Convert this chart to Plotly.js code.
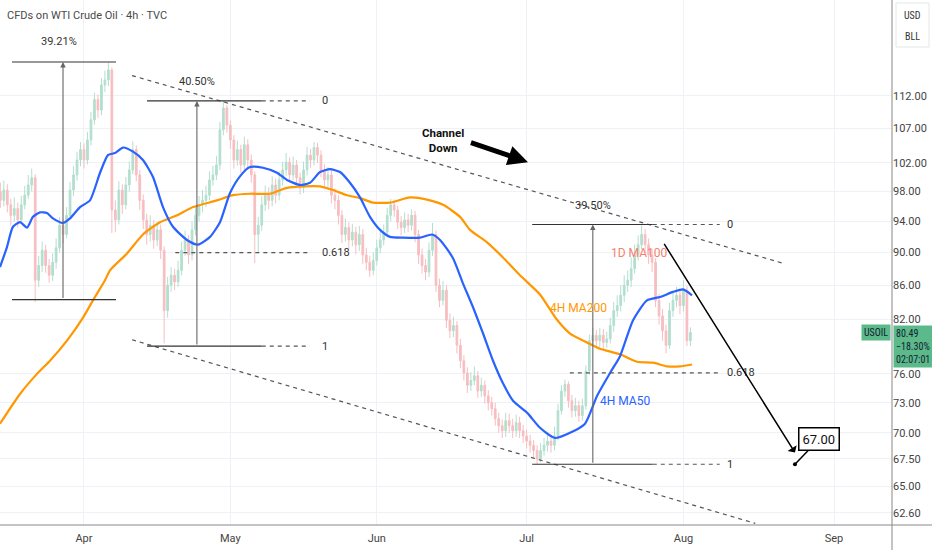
<!DOCTYPE html>
<html><head><meta charset="utf-8">
<script src="https://cdn.plot.ly/plotly-3.0.1.min.js"></script>
<style>html,body{margin:0;padding:0;background:#fff}#chart{width:932px;height:550px}</style>
</head><body><div id="chart"></div>
<script>
// ---- axis labels ----
const monthTicks = [0, 21, 42, 63.5, 86, 107.6];
const monthLabels = ['Apr', 'May', 'Jun', 'Jul', 'Aug', 'Sep'];
const priceTicks = [62.6, 65, 67.5, 70, 73, 76, 82, 86, 90, 94, 98, 102, 107, 112];
const priceTickText = ['62.60', '65.00', '67.50', '70.00', '73.00', '76.00', '82.00', '86.00', '90.00', '94.00', '98.00', '102.00', '107.00', '112.00'];

// ---- candles (trading days from Apr 1, half-day steps) ----
const candleStartDay = -12;
const candleStepDays = 0.5;
const opens = [98.0,96.8,98.2,96.2,94.8,95.7,94.2,96.2,97.5,98.9,
99.9,86.6,88.4,90.3,88.4,87.2,88.8,90.6,93.5,92.3,
94.8,98.2,100.3,102.4,103.9,102.4,105.3,108.3,111.4,109.8,
113.7,114.5,116.1,95.5,94.2,98.2,96.2,98.9,101.0,103.9,
100.3,96.8,94.2,92.3,93.5,91.6,92.9,90.3,83.0,86.0,
87.2,86.4,87.8,90.3,91.6,89.7,92.9,94.8,96.2,96.8,
97.5,99.6,100.3,101.7,106.8,110.1,107.5,105.3,102.4,103.9,
101.7,104.6,102.4,100.3,92.3,93.5,96.2,97.5,96.8,98.9,
97.5,99.6,101.0,102.1,100.3,101.7,99.9,98.5,101.0,103.1,
102.4,104.2,103.1,101.0,99.6,100.3,97.5,96.8,94.8,92.3,
93.2,91.6,92.6,91.0,92.3,89.7,88.8,87.8,89.0,90.6,
91.6,92.6,94.8,96.2,95.5,93.9,93.2,94.2,93.5,94.8,
92.3,89.7,88.4,87.6,90.3,92.3,86.0,84.2,85.4,81.9,
80.7,81.3,79.1,77.4,76.1,74.8,75.3,75.8,74.2,74.8,
73.7,73.0,72.4,71.4,70.7,70.2,71.2,70.7,70.2,71.0,
70.2,69.7,69.2,68.8,68.3,67.5,68.3,68.8,69.2,68.8,
69.7,72.2,74.2,74.9,73.2,72.2,72.7,71.7,72.7,76.3,
79.6,80.2,79.6,80.2,79.4,79.8,81.3,83.0,83.6,84.8,
86.0,86.6,88.0,89.7,91.0,92.3,91.0,89.7,88.8,84.2,
82.4,80.7,79.1,83.0,84.2,84.8,83.6,85.4,79.6];
const highs = [99.2,99.5,99.0,97.0,97.2,96.5,97.4,98.8,100.3,101.2,
100.4,89.6,91.4,91.0,89.2,89.9,91.8,94.6,94.3,95.9,
99.3,101.5,103.6,105.0,104.8,106.5,109.5,112.5,112.2,114.8,
116.0,117.3,116.5,96.8,99.4,99.0,100.0,102.2,105.1,104.5,
101.0,97.6,95.0,94.8,94.2,94.0,93.6,90.8,87.0,88.2,
88.0,89.0,91.4,92.8,92.2,94.0,96.0,97.4,98.2,98.8,
100.8,101.6,103.0,108.0,111.2,110.6,108.2,106.0,105.2,104.6,
105.8,105.4,103.2,100.8,94.6,97.4,98.8,98.6,100.1,99.8,
100.8,102.2,103.4,102.8,102.9,102.4,100.6,102.2,104.3,104.0,
105.0,104.9,103.8,101.8,101.4,101.0,98.4,97.5,95.5,94.4,
93.9,93.7,93.3,93.4,93.0,90.6,89.6,90.0,91.6,92.6,
93.6,95.8,97.0,96.9,96.1,94.7,95.2,95.0,95.6,95.4,
92.9,90.5,89.2,91.3,93.8,92.8,86.8,86.5,86.0,82.7,
82.3,81.8,79.8,78.0,76.7,76.2,76.8,76.3,75.6,75.3,
74.3,73.6,73.0,72.0,71.3,72.0,71.9,71.4,71.8,71.6,
70.8,70.3,69.8,69.3,68.8,69.0,69.5,69.9,69.8,70.6,
72.9,74.8,75.4,75.2,73.8,73.5,73.2,73.4,76.9,80.3,
81.0,80.8,81.0,80.9,80.6,82.2,84.0,84.8,86.0,87.2,
87.8,89.4,91.0,92.2,93.5,93.0,91.8,90.5,89.3,85.0,
83.2,81.4,83.9,85.3,85.8,85.5,86.6,85.9,81.1];
const lows = [95.8,96.0,95.2,93.5,94.0,93.2,93.8,95.6,97.0,98.0,
84.0,85.8,87.6,87.5,86.3,86.5,88.0,90.0,91.2,91.8,
94.2,97.4,99.5,101.5,101.2,101.8,104.5,107.6,108.6,109.0,
112.6,113.5,92.5,92.6,93.6,95.0,95.6,98.0,100.4,99.4,
95.5,93.0,91.0,91.4,90.5,90.8,89.2,79.3,82.2,85.2,
85.4,85.8,87.2,89.6,88.6,89.0,92.2,94.0,95.2,95.9,
96.8,98.8,99.6,101.0,106.0,106.4,104.0,101.2,101.6,100.6,
101.0,101.3,99.2,88.7,90.0,92.8,95.4,95.6,96.0,96.4,
96.8,98.8,100.2,99.2,99.6,98.9,97.6,97.8,100.2,101.3,
101.6,102.0,100.0,98.4,98.6,96.4,95.6,93.6,91.2,91.4,
90.5,90.8,89.8,90.2,88.6,87.8,87.0,87.2,88.4,89.9,
90.9,92.0,94.0,94.6,93.0,92.2,92.5,92.6,92.8,91.3,
88.6,87.4,86.6,87.0,89.6,85.2,83.4,83.6,81.0,79.9,
80.0,78.2,76.6,75.3,74.0,74.2,74.8,73.5,73.6,72.9,
72.2,71.7,70.7,70.0,69.5,69.6,70.0,69.5,69.6,69.5,
69.0,68.5,68.1,67.6,67.0,67.2,67.8,68.2,68.1,68.3,
69.3,71.8,73.6,72.5,71.5,71.6,71.1,71.2,72.3,75.9,
79.0,78.8,78.9,78.6,78.8,79.3,80.6,82.3,82.9,84.0,
85.2,85.8,87.4,89.0,90.4,90.0,88.6,87.6,83.4,81.4,
79.6,78.2,78.7,82.3,83.4,82.6,82.9,79.0,79.0];
const closes = [96.8,98.2,96.2,94.8,95.7,94.2,96.2,97.5,98.9,99.9,
86.6,88.4,90.3,88.4,87.2,88.8,90.6,93.5,92.3,94.8,
98.2,100.3,102.4,103.9,102.4,105.3,108.3,111.4,109.8,113.7,
114.5,116.1,95.5,94.2,98.2,96.2,98.9,101.0,103.9,100.3,
96.8,94.2,92.3,93.5,91.6,92.9,90.3,83.0,86.0,87.2,
86.4,87.8,90.3,91.6,89.7,92.9,94.8,96.2,96.8,97.5,
99.6,100.3,101.7,106.8,110.1,107.5,105.3,102.4,103.9,101.7,
104.6,102.4,100.3,92.3,93.5,96.2,97.5,96.8,98.9,97.5,
99.6,101.0,102.1,100.3,101.7,99.9,98.5,101.0,103.1,102.4,
104.2,103.1,101.0,99.6,100.3,97.5,96.8,94.8,92.3,93.2,
91.6,92.6,91.0,92.3,89.7,88.8,87.8,89.0,90.6,91.6,
92.6,94.8,96.2,95.5,93.9,93.2,94.2,93.5,94.8,92.3,
89.7,88.4,87.6,90.3,92.3,86.0,84.2,85.4,81.9,80.7,
81.3,79.1,77.4,76.1,74.8,75.3,75.8,74.2,74.8,73.7,
73.0,72.4,71.4,70.7,70.2,71.2,70.7,70.2,71.0,70.2,
69.7,69.2,68.8,68.3,67.5,68.3,68.8,69.2,68.8,69.7,
72.2,74.2,74.9,73.2,72.2,72.7,71.7,72.7,76.3,79.6,
80.2,79.6,80.2,79.4,79.8,81.3,83.0,83.6,84.8,86.0,
86.6,88.0,89.7,91.0,92.3,91.0,89.7,88.8,84.2,82.4,
80.7,79.1,83.0,84.2,84.8,83.6,85.4,79.6,80.5];

// ---- moving averages ----
const ma50Days = [-12.05,-11.05,-10.19,-9.18,-8.18,-7.32,-6.31,-5.31,-4.45,-3.01,-2.01,-0.57,0.86,2.30,3.44,4.45,5.60,7.03,8.46,9.90,11.33,12.77,14.78,16.36,18.08,19.51,20.95,22.38,23.82,25.68,27.69,29.12,30.99,32.42,33.86,35.29,36.73,38.16,39.60,41.03,42.47,43.90,45.77,48.21,49.93,51.08,52.94,54.38,55.81,57.25,58.68,60.11,61.55,63.56,65.42,67.58,69.73,71.88,73.60,75.47,76.90,78.77,80.77,82.64,84.51,85.94,87.23];
const ma50Values = [88.2,90.7,93.3,93.9,93.2,94.6,95.2,95.1,94.4,93.8,94.4,95.9,96.8,100.6,103.1,103.4,104.2,103.6,102.4,100.0,95.9,93.3,91.6,91.0,92.0,93.9,97.8,100.1,101.4,101.3,100.6,99.6,98.9,99.2,100.7,101.1,100.7,99.2,97.2,94.6,92.9,92.0,91.9,91.9,92.3,91.6,89.3,86.2,83.4,80.4,77.4,75.0,73.2,72.0,70.5,69.5,70.0,70.9,73.7,76.1,77.9,81.9,84.2,84.6,85.2,85.5,84.8];
const ma200Days = [-12.05,-9.18,-6.74,-4.88,-2.44,-0.14,1.29,3.01,3.73,6.17,8.46,10.90,13.34,15.64,19.08,21.38,23.82,26.69,29.12,31.42,33.86,35.72,37.73,39.60,41.46,43.90,46.77,49.21,51.51,53.95,55.38,57.82,60.11,62.55,65.42,67.72,69.73,72.17,74.03,76.90,79.34,81.64,83.64,85.51,87.23];
const ma200Values = [70.9,73.9,76.0,77.4,79.6,82.2,84.2,86.6,87.8,89.9,92.3,93.9,94.8,95.9,96.8,97.5,97.7,97.7,98.5,98.7,98.7,98.2,97.5,97.1,96.5,96.5,97.2,96.9,96.2,94.6,92.9,91.3,89.4,87.2,84.9,82.1,80.4,79.4,78.7,78.1,77.3,77.2,76.8,76.8,77.0];

// ---- drawings (prices / days) ----
const channelUpperDays = [6.89, 100.6];
const channelUpperPrices = [115.2, 88.6];
const channelLowerDays = [6.89, 96.3];
const channelLowerPrices = [79.7, 61.7];

const m1 = {x0: -10.33, x1: 4.59, xa: -3.01, top: 117.4, bottom: 84.3, label: '39.21%'};
const m2 = {x0: 9.04, x1: 25.5, x2: 32.4, xa: 16.2, top: 111.2, bottom: 79.0, fibStart: 13.1, fib618: 90.0, label: '40.50%'};
const m3 = {x0: 64.3, x1: 81.6, x2: 91.2, xa: 73.0, top: 93.6, bottom: 67.0, fibStart: 69.7, fib618: 76.1, label: '39.50%'};

const projFrom = {d: 83.1, p: 91.3};
const projTo = {d: 102.0, p: 68.1};
const target = {d: 102.0, p: 67.0, label: '67.00'};
const lastPrice = 80.49;

const xRange = [-12.05, 115.92];
const yRange = [Math.log10(61.56), Math.log10(128.0)];

const L = Math.log10;
const xs = closes.map((_, i) => candleStartDay + i * candleStepDays);

const traces = [];
traces.push({
  type: 'candlestick', x: xs, open: opens, high: highs, low: lows, close: closes,
  increasing: {line: {color: '#b3dfce', width: 1}, fillcolor: '#b3dfce'},
  decreasing: {line: {color: '#f7bec1', width: 1}, fillcolor: '#f7bec1'},
  whiskerwidth: 0, hoverinfo: 'skip', showlegend: false
});
traces.push({type: 'scatter', mode: 'lines', x: ma200Days, y: ma200Values, line: {color: '#ff9800', width: 2.2, shape: 'spline', smoothing: 0.6}, hoverinfo: 'skip', showlegend: false});
traces.push({type: 'scatter', mode: 'lines', x: ma50Days, y: ma50Values, line: {color: '#2962ff', width: 2.2, shape: 'spline', smoothing: 0.6}, hoverinfo: 'skip', showlegend: false});
// channel
traces.push({type: 'scatter', mode: 'lines', x: channelUpperDays, y: channelUpperPrices, line: {color: '#555', width: 1.2, dash: '4px,4px'}, hoverinfo: 'skip', showlegend: false});
traces.push({type: 'scatter', mode: 'lines', x: channelLowerDays, y: channelLowerPrices, line: {color: '#555', width: 1.2, dash: '4px,4px'}, hoverinfo: 'skip', showlegend: false});

function seg(x0, x1, y, dash, w) {
  traces.push({type: 'scatter', mode: 'lines', x: [x0, x1], y: [y, y], line: {color: dash ? '#555' : '#333', width: w || 1.2, dash: dash ? '4px,4px' : 'solid'}, hoverinfo: 'skip', showlegend: false});
}
seg(m1.x0, m1.x1, m1.top); seg(m1.x0, m1.x1, m1.bottom);
seg(m2.x0, m2.x1, m2.top); seg(m2.x1, m2.x2, m2.top, true);
seg(m2.x0, m2.x1, m2.bottom); seg(m2.x1, m2.x2, m2.bottom, true);
seg(m2.fibStart, m2.x2, m2.fib618, true);
seg(m3.x0, m3.x1, m3.top); seg(m3.x1, m3.x2, m3.top, true);
seg(m3.x0, m3.x1, m3.bottom); seg(m3.x1, m3.x2, m3.bottom, true);
seg(m3.fibStart, m3.x2, m3.fib618, true);
traces.push({type: 'scatter', mode: 'markers', x: [target.d], y: [target.p], marker: {color: '#000', size: 4}, hoverinfo: 'skip', showlegend: false});

const font = 'Roboto, "Liberation Sans", Arial, sans-serif';
const narrow = '"Liberation Sans Narrow", "Roboto Condensed", "DejaVu Sans Condensed", Roboto, sans-serif';
const ann = [];
function txt(d, p, text, opts) {
  ann.push(Object.assign({x: d, y: L(p), xref: 'x', yref: 'y', text: text, showarrow: false,
    font: {family: font, size: 11, color: '#333'}}, opts || {}));
}
function vArrow(xa, bottom, top) {
  ann.push({x: xa, y: L(top), ax: xa, ay: L(bottom), xref: 'x', yref: 'y', axref: 'x', ayref: 'y',
    text: '', showarrow: true, arrowhead: 2, arrowsize: 1, arrowwidth: 1.1, arrowcolor: '#666'});
}
vArrow(m1.xa, m1.bottom, m1.top);
vArrow(m2.xa, m2.bottom, m2.top);
vArrow(m3.xa, m3.bottom, m3.top);
txt(m1.xa - 0.6, 120.8, m1.label);
txt(m2.xa, 114.2, m2.label);
txt(m3.xa, 96.1, m3.label);
txt(33.8, m2.top, '0', {xanchor: 'left'});
txt(33.8, m2.fib618, '0.618', {xanchor: 'left'});
txt(33.8, m2.bottom, '1', {xanchor: 'left'});
txt(92.0, m3.top, '0', {xanchor: 'left'});
txt(92.0, m3.fib618, '0.618', {xanchor: 'left'});
txt(92.0, m3.bottom, '1', {xanchor: 'left'});
txt(70.9, 83.3, '4H MA200', {font: {family: font, size: 12, color: '#ff9800'}});
txt(77.6, 73.2, '4H MA50', {font: {family: font, size: 12, color: '#2962ff'}});
txt(79.6, 90.0, '1D MA100', {font: {family: font, size: 12, color: '#f4806f'}});
txt(51.5, 105.3, '<b>Channel<br>Down</b>', {font: {family: font, size: 11.5, color: '#111'}});
ann.push({x: 63.7, y: L(102.1), ax: 55.3, ay: L(105.0), xref: 'x', yref: 'y', axref: 'x', ayref: 'y',
  text: '', showarrow: true, arrowhead: 2, arrowsize: 0.8, arrowwidth: 5, arrowcolor: '#000'});
ann.push({x: projTo.d, y: L(projTo.p), ax: projFrom.d, ay: L(projFrom.p), xref: 'x', yref: 'y', axref: 'x', ayref: 'y',
  text: '', showarrow: true, arrowhead: 1, arrowsize: 1.2, arrowwidth: 1.5, arrowcolor: '#000'});
ann.push({x: target.d, y: L(target.p), xref: 'x', yref: 'y', ax: 24, ay: -25, text: target.label,
  showarrow: true, arrowhead: 0, arrowwidth: 1.5, arrowcolor: '#000', bgcolor: '#fff', bordercolor: '#000',
  borderwidth: 1.5, borderpad: 3, font: {family: font, size: 13, color: '#111'}});
ann.push({xref: 'paper', yref: 'paper', x: 5 / 892, y: 1 - 15 / 525, xanchor: 'left', yanchor: 'middle', showarrow: false,
  text: 'CFDs on WTI Crude Oil · 4h · TVC', font: {family: font, size: 11, color: '#4a4a4a'}});
ann.push({xref: 'paper', yref: 'paper', x: 912 / 892, y: 1 - 15 / 525, xanchor: 'center', yanchor: 'middle', showarrow: false, text: 'USD', font: {family: narrow, size: 10, color: '#333'}});
ann.push({xref: 'paper', yref: 'paper', x: 912 / 892, y: 1 - 36 / 525, xanchor: 'center', yanchor: 'middle', showarrow: false, text: 'BLL', font: {family: narrow, size: 10, color: '#333'}});
ann.push({xref: 'paper', yref: 'y', x: 891 / 892, y: L(lastPrice), xanchor: 'right', yanchor: 'middle', showarrow: false, text: 'USOIL',
  bgcolor: '#5cb98a', borderpad: 2, font: {family: narrow, size: 10, color: '#123'}});
ann.push({xref: 'paper', yref: 'paper', x: 893 / 892, y: 1 - 325 / 525, xanchor: 'left', yanchor: 'top', align: 'left', showarrow: false,
  text: '80.49<br>−18.30%<br>02:07:01', bgcolor: '#5cb98a', borderpad: 2, font: {family: narrow, size: 10, color: '#123'}});

const shapes = [
  {type: 'line', xref: 'paper', yref: 'paper', x0: 1, x1: 1, y0: -0.05, y1: 1, line: {color: '#888', width: 1}},
  {type: 'line', xref: 'paper', yref: 'paper', x0: 0, x1: 1.045, y0: 0, y1: 0, line: {color: '#888', width: 1}},
  {type: 'rect', xref: 'paper', yref: 'paper', x0: 896 / 892, x1: 929 / 892, y0: 1 - 47 / 525, y1: 1 - 3 / 525, line: {color: '#e3e6ea', width: 1}, fillcolor: 'rgba(0,0,0,0)'},
  {type: 'line', xref: 'paper', yref: 'y', x0: 0, x1: 1, y0: L(lastPrice), y1: L(lastPrice), line: {color: '#5cb98a', width: 1, dash: 'dot'}}
];

const layout = {
  width: 932, height: 550,
  margin: {l: 0, r: 40, t: 0, b: 25},
  paper_bgcolor: '#fff', plot_bgcolor: '#fff',
  showlegend: false, hovermode: false,
  xaxis: {range: xRange, tickvals: monthTicks, ticktext: monthLabels, showgrid: true, gridcolor: '#eef1f6',
    zeroline: false, showline: false, ticks: '', rangeslider: {visible: false}, ticklabelstandoff: 5,
    tickfont: {family: font, size: 11, color: '#444'}},
  yaxis: {type: 'log', range: yRange, side: 'right', tickvals: priceTicks, ticktext: priceTickText,
    showgrid: true, gridcolor: '#eef1f6', zeroline: false, showline: false, ticks: '',
    tickfont: {family: font, size: 11, color: '#444'}},
  annotations: ann, shapes: shapes
};
Plotly.newPlot('chart', traces, layout, {staticPlot: true, displayModeBar: false});
</script>
</body></html>
